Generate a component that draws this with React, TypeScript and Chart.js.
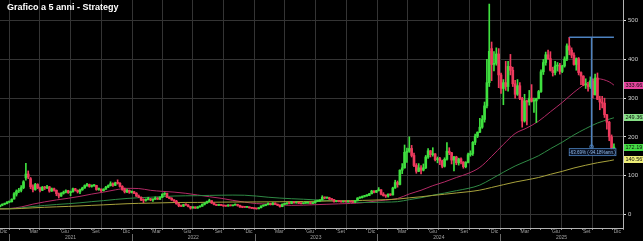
import React, { useEffect, useRef } from 'react';
import { Chart, registerables } from 'chart.js';

Chart.register(...registerables);

// ---------- DATA (weekly candles, Strategy / MSTR, split-adjusted) ----------
const opens = [
  19.5, 23.5, 26, 27.5, 31.5, 32.5, 39.5, 52, 60, 62,
  69, 94, 104, 92, 71, 64, 77, 68, 62, 70,
  68, 71, 60, 66, 62, 53, 47, 54, 57, 61,
  56, 58, 66, 62, 58, 63, 68, 74, 77, 72,
  74, 74.5, 64, 65, 61, 65, 70, 74, 79, 75,
  81, 80, 72, 64, 58, 62, 57, 58, 54.5, 47,
  44, 37, 36, 38, 40, 37, 39, 42, 39, 44,
  52, 54, 44, 41, 37, 34, 27, 22, 21, 25,
  24, 20, 16, 19, 16, 19, 21, 26, 29, 33,
  35, 29, 25, 23, 25, 23, 21.5, 21.2, 23.5, 22,
  23.8, 25, 23, 19, 18.5, 18, 18.5, 16.8, 15.5, 14.8,
  14.2, 17, 21.5, 23, 25, 28, 25, 29, 26, 23.5,
  20, 26, 27, 29.4, 28, 33, 29.5, 30, 28.5, 27.5,
  29, 29.2, 29.5, 28, 29.5, 34, 34.2, 37, 44, 42,
  43, 40, 38, 33, 33.5, 33, 32, 33, 32, 32.8,
  32, 31, 35, 42, 43, 46, 48, 48.5, 53, 60,
  57, 61, 63.2, 52, 48, 47, 52, 50, 68, 82,
  77, 114, 120, 160, 163, 170, 152, 126, 111, 120,
  114, 120, 148, 164, 154, 156, 141, 144, 138, 124,
  142, 163, 159, 140, 148, 133, 143, 135, 123, 134,
  154, 157, 186, 202, 212, 225, 245, 280, 340, 428,
  387, 390, 414, 360, 325, 340, 330, 382, 372, 337,
  310, 332, 299, 241, 293, 290, 300, 292, 293, 299,
  317, 368, 392, 412, 402, 372, 366, 383, 385, 369,
  383, 401, 435, 424, 411, 387, 402, 366, 357, 334,
  335, 330, 345, 309, 352, 297, 290, 287, 257, 238,
  200, 171,
];
const highs = [
  24, 27, 29, 33, 34, 40, 56, 63, 67, 74,
  87, 131.5, 112, 95, 76, 80, 79, 70, 72, 72,
  75, 72, 68, 68, 63, 55, 56, 60, 63, 62,
  60, 68, 67, 63, 65, 70, 76, 80, 78, 76,
  77, 75, 68, 66, 66, 72, 76, 84, 81, 83,
  89, 82, 74, 68, 65, 63, 60, 59, 56, 50,
  45, 40, 40, 44, 41, 40, 45, 43, 45, 53,
  56, 55, 45, 43, 38, 36, 28, 24, 26, 27,
  25, 20.5, 20, 19.5, 20, 22, 27, 30, 34, 39,
  35.5, 30, 26, 26, 25.5, 23.5, 22.5, 25, 24, 24,
  26.5, 26, 23.5, 19.5, 19.5, 19.5, 19, 17.5, 16, 15,
  17.5, 22, 24, 26, 29.5, 28.5, 30, 29.5, 26.5, 24,
  27, 28, 30, 30, 33.5, 33.5, 31, 31, 29, 29.5,
  30, 30.5, 30, 30, 35, 35.5, 38, 48, 45, 44.5,
  44, 40.5, 38.5, 35, 35, 33.5, 33.5, 34, 34, 34,
  33, 36, 43, 45, 47.5, 49, 50, 54, 62, 61,
  62, 69, 64, 56, 50, 53, 53, 70, 88, 86,
  115, 131, 179, 171, 200, 178, 158, 131, 131, 126,
  130, 152, 170, 165, 172, 157, 148, 147, 140, 146,
  185, 172, 160, 150, 150, 145, 146, 136, 136, 158,
  164, 188, 207, 213, 248, 255, 290, 400, 543, 445,
  420, 430, 428, 365, 348, 395, 395, 413, 380, 346,
  348, 340, 302, 310, 295, 320, 335, 300, 300, 320,
  373, 400, 419, 424, 420, 380, 395, 392, 390, 385,
  407, 440, 457, 430, 417, 404, 405, 368, 358, 350,
  340, 355, 350, 362, 365, 305, 305, 300, 258, 240,
  205, 182,
];
const lows = [
  19, 22, 24.5, 27, 30, 31.5, 39, 47, 56, 58,
  66, 88, 92, 66, 58, 62, 66, 58, 61, 64,
  66, 57, 59, 60, 48, 42, 46, 52, 55, 54,
  48, 57, 60, 55, 53, 62, 67, 72, 70, 70,
  72, 62, 62, 58, 60, 64, 69, 73, 72, 74,
  78, 70, 62, 55, 56, 54, 55, 53, 46, 43,
  35, 30, 34, 37, 35, 33, 38, 38, 38, 43,
  49, 43, 40, 36, 33, 26, 19.5, 19.5, 20, 23,
  19, 13.3, 15.5, 15, 15.5, 18.5, 20.5, 24, 28, 32,
  28, 24, 22.5, 22.5, 22, 20.5, 20.5, 21, 21.5, 21.5,
  23.5, 21, 17.5, 17, 17.8, 17.5, 16, 15, 14, 13.2,
  14, 16.5, 20.5, 22, 24.5, 24, 24.5, 25, 22.5, 18.5,
  19.5, 24.5, 26, 27, 27.5, 28.5, 28.5, 27.5, 26.5, 27,
  28, 28, 27, 27.5, 29, 32.5, 33.5, 36.5, 40, 41,
  38, 37, 31, 32, 32, 31, 31.5, 31.5, 31.5, 31.5,
  30.5, 30.5, 34.5, 41, 42, 44.5, 46, 48, 52.5, 55,
  56, 60, 50, 47, 43.5, 44.5, 48.5, 49.5, 67, 70,
  76, 105, 119, 134, 160, 148, 123, 106, 110, 104,
  112, 118, 144, 148, 150, 138, 133, 128, 120, 122,
  140, 154, 130, 112, 128, 127, 130, 119, 120, 133,
  150, 152, 180, 198, 211, 222, 238, 275, 330, 345,
  370, 385, 327, 312, 283, 320, 318, 360, 330, 300,
  307, 296, 225, 238, 231, 282, 290, 263, 237, 298,
  315, 361, 385, 400, 370, 357, 360, 370, 362, 366,
  380, 397, 412, 404, 385, 372, 360, 335, 332, 325,
  318, 325, 300, 308, 296, 270, 275, 250, 220, 190,
  166, 167,
];
const closes = [
  23.5, 26, 27.5, 31.5, 32.5, 38.9, 53, 60, 62, 69,
  84, 104, 96, 71, 64, 77, 68, 62, 70, 68,
  71, 60, 66, 62, 53, 47, 54, 57, 61, 56,
  58, 66, 62, 58, 63, 68, 74, 77, 72, 74,
  74.5, 64, 65, 61, 65, 70, 74, 79, 75, 81,
  80, 72, 64, 58, 62, 57, 58, 54.4, 47, 44,
  37, 36, 38, 40, 37, 39, 42, 39, 44, 52,
  54, 44, 41, 37, 34, 27, 22, 21, 25, 24,
  20, 16, 19, 16, 19, 21, 26, 29, 33, 35,
  29, 25, 23, 25, 23, 21.5, 21.2, 23.5, 22, 23.8,
  25, 23, 19, 18.5, 18, 18.5, 16.8, 15.5, 14.8, 14.2,
  17, 21.5, 23, 25, 28, 25, 29, 26, 23.5, 20,
  26, 27, 29.4, 28, 33, 29.5, 30, 28.5, 27.5, 29,
  29.2, 29.5, 28, 29.5, 34, 34.2, 37, 44, 42, 43,
  40, 38, 33, 33.5, 33, 32, 33, 32, 32.8, 32,
  31, 35, 42, 43, 46, 48, 48.5, 53, 60, 57,
  61, 63.2, 52, 48, 47, 52, 50, 68, 82, 77,
  114, 120, 160, 163, 170, 152, 126, 111, 120, 114,
  120, 148, 164, 154, 156, 141, 144, 138, 124, 142,
  163, 159, 140, 148, 133, 143, 135, 123, 134, 154,
  157, 186, 202, 212, 225, 245, 280, 340, 421, 387,
  390, 414, 360, 325, 340, 330, 382, 372, 337, 310,
  332, 299, 241, 293, 290, 300, 292, 293, 299, 317,
  368, 392, 412, 402, 372, 366, 383, 385, 369, 383,
  401, 435, 424, 411, 387, 402, 366, 357, 334, 335,
  330, 345, 309, 352, 297, 290, 287, 257, 238, 200,
  171, 172.19,
];

const maWeeks = [
  0, 4, 9, 14, 19, 24, 29, 34, 39, 44, 49, 54, 59, 64, 69, 74, 79, 84, 89, 94,
  99, 104, 109, 114, 119, 124, 129, 134, 139, 144, 149, 154, 159, 164, 169, 174,
  179, 184, 189, 194, 199, 204, 209, 214, 219, 224, 229, 234, 239, 244, 249, 254,
  259, 261,
];
const ma50 = [
  14.0, 14.9, 19.0, 26.3, 32.1, 37.1, 41.4, 46.3, 52.2, 57.3, 63.1, 67.0, 66.5,
  61.9, 59.3, 57.3, 54.2, 49.8, 45.4, 41.3, 36.0, 31.4, 27.7, 26.3, 24.4, 23.1,
  23.6, 24.8, 25.9, 27.0, 28.0, 29.8, 33.6, 36.7, 40.8, 52.5, 62.1, 73.9, 83.7,
  95.0, 105.5, 121.2, 149.4, 180.5, 208.6, 223.1, 240.7, 264.8, 288.7, 315.0,
  337.1, 350.1, 342.1, 333.66,
];
const ma100 = [
  14.2, 14.5, 16.6, 20.1, 22.9, 25.3, 27.3, 29.7, 32.7, 35.3, 38.3, 40.9, 42.8,
  44.1, 45.7, 47.2, 47.8, 48.1, 48.8, 49.3, 49.6, 49.2, 47.1, 44.1, 41.9, 40.2,
  38.9, 37.3, 35.7, 34.2, 32.0, 30.6, 30.7, 31.5, 32.6, 37.8, 42.8, 49.4, 54.8,
  61.0, 66.8, 75.5, 91.5, 108.6, 124.7, 137.8, 151.4, 169.3, 186.2, 205.0,
  221.3, 235.7, 245.7, 249.36,
];
const ma200 = [
  13.8, 13.9, 15.0, 16.7, 18.1, 19.3, 20.4, 21.6, 23.1, 24.4, 25.9, 27.3, 28.3,
  28.9, 29.6, 30.4, 30.6, 30.7, 31.1, 31.4, 31.7, 31.8, 31.9, 32.1, 32.4, 32.8,
  33.1, 33.5, 34.2, 34.7, 35.2, 35.8, 36.7, 37.8, 39.2, 42.5, 45.3, 48.7, 51.8,
  55.1, 58.2, 62.4, 69.3, 76.4, 83.3, 89.0, 95.1, 103.3, 110.9, 119.6, 126.7,
  133.1, 138.2, 140.57,
];

const yTicks = [0, 100, 200, 300, 400, 500];
const monthLabelNames = ['Dic', 'Mar', 'Giu', 'Set'];
const monthLabelIndex = [11, 2, 5, 8];
const yearLabels = ['2021', '2022', '2023', '2024', '2025'];
const titleText = 'Grafico a 5 anni - Strategy';
const measureText = '-63.69% (-94.18%ann.)';
const measureFromWeek = 242;
const tagValues = [333.6618, 249.363, 172.19, 140.5672];
const tagTexts = ['333.6618', '249.3630', '172.19', '140.5672'];

// ---------- STYLE ----------
const GREEN = '#3fe03f';
const RED = '#ee3a5e';
const GRID = '#343434';
const FONT = '"Liberation Sans", Arial, sans-serif';
const tagColors = ['#e8449e', '#86e086', '#44dd44', '#eeee78'];

const DAY_MS = 86400000;
const ORIGIN = Date.UTC(2021, 0, 1);
const dayOf = (y: number, m: number, d: number) => (Date.UTC(y, m, d) - ORIGIN) / DAY_MS;
const FIRST_WEEK_DAY = dayOf(2020, 11, 4);
const X_MIN = FIRST_WEEK_DAY;
const X_MAX = dayOf(2026, 0, 1);
const weekDay = (k: number) => FIRST_WEEK_DAY + 7 * k;

const monthStarts: number[] = [];
const quarterStarts = new Set<number>();
for (let y = 2020; y <= 2026; y++) {
  for (let m = 0; m < 12; m++) {
    const d = dayOf(y, m, 1);
    if (d >= X_MIN && d <= X_MAX) {
      monthStarts.push(d);
      if (m % 3 === 0) quarterStarts.add(d);
    }
  }
}
const labelTicks: { value: number; label: string | string[] }[] = [];
for (let y = 2020; y <= 2025; y++) {
  monthLabelIndex.forEach((m, i) => {
    const d = dayOf(y, m, 15);
    if (d >= X_MIN && d <= X_MAX) labelTicks.push({ value: d, label: monthLabelNames[i] });
  });
}
yearLabels.forEach((yl) => {
  labelTicks.push({ value: dayOf(Number(yl), 6, 2), label: ['', yl] });
});
labelTicks.sort((a, b) => a.value - b.value);
const yearStarts = [2021, 2022, 2023, 2024, 2025].map((y) => dayOf(y, 0, 1));

const overlayPlugin = {
  id: 'overlay',
  afterDatasetsDraw(chart: any) {
    const ctx = chart.ctx;
    const xs = chart.scales.x;
    const ys = chart.scales.y;
    const last = closes.length - 1;
    const xa = xs.getPixelForValue(weekDay(measureFromWeek));
    const xb = xs.getPixelForValue(weekDay(last));
    const ya = ys.getPixelForValue(highs[measureFromWeek]);
    const yb = ys.getPixelForValue(closes[last]);
    const xm = (xa + xb) / 2;
    ctx.save();
    ctx.strokeStyle = '#4d82c0';
    ctx.lineWidth = 1.5;
    ctx.beginPath();
    ctx.moveTo(xa, ya);
    ctx.lineTo(xb, ya);
    ctx.moveTo(xm, ya);
    ctx.lineTo(xm, yb);
    ctx.stroke();
    ctx.lineWidth = 1;
    ctx.beginPath();
    ctx.arc(xm, yb - 1, 1.8, 0, Math.PI * 2);
    ctx.stroke();
    ctx.fillStyle = 'rgba(10,20,40,0.85)';
    ctx.fillRect(xa, yb + 1, xb - xa + 2, 7);
    ctx.strokeStyle = '#4d82c0';
    ctx.lineWidth = 0.8;
    ctx.strokeRect(xa, yb + 1, xb - xa + 2, 7);
    ctx.fillStyle = '#8fb8e8';
    ctx.font = `4.5px ${FONT}`;
    ctx.textAlign = 'center';
    ctx.textBaseline = 'middle';
    ctx.fillText(measureText, xm + 1, yb + 4.7);
    ctx.restore();
  },
  afterDraw(chart: any) {
    const ctx = chart.ctx;
    const xs = chart.scales.x;
    const ys = chart.scales.y;
    const area = chart.chartArea;
    ctx.save();
    // year separators in the axis strip
    ctx.strokeStyle = '#6a6a6a';
    ctx.lineWidth = 1;
    yearStarts.forEach((d) => {
      const px = Math.round(xs.getPixelForValue(d)) + 0.5;
      ctx.beginPath();
      ctx.moveTo(px, area.bottom + 6);
      ctx.lineTo(px, chart.height);
      ctx.stroke();
    });
    // value tags on right
    tagValues.forEach((v, i) => {
      const y = ys.getPixelForValue(v);
      ctx.fillStyle = tagColors[i];
      ctx.fillRect(area.right + 1, Math.round(y - 3.5), chart.width - area.right - 1, 7);
      ctx.fillStyle = '#101010';
      ctx.font = `5.5px ${FONT}`;
      ctx.textAlign = 'left';
      ctx.textBaseline = 'middle';
      ctx.fillText(tagTexts[i], area.right + 2.5, Math.round(y - 3.5) + 3.8);
    });
    // title
    ctx.fillStyle = '#ffffff';
    ctx.font = `bold 9px ${FONT}`;
    ctx.textAlign = 'left';
    ctx.textBaseline = 'middle';
    ctx.fillText(titleText, 7, 7.5);
    ctx.restore();
  },
};

export default function App() {
  const canvasRef = useRef<HTMLCanvasElement | null>(null);

  useEffect(() => {
    document.body.style.margin = '0';
    document.body.style.background = '#000';
    const canvas = canvasRef.current;
    if (!canvas) return;
    const colors = closes.map((c, i) => (c >= opens[i] ? GREEN : RED));
    const maDataset = (vals: number[], color: string) => ({
      type: 'line' as const,
      data: maWeeks.map((k, i) => ({ x: weekDay(k), y: vals[i] })),
      borderColor: color,
      borderWidth: 1,
      pointRadius: 0,
      cubicInterpolationMode: 'monotone' as const,
      order: 3,
      xAxisID: 'x',
      yAxisID: 'y',
    });

    const chart = new Chart(canvas, {
      type: 'bar',
      data: {
        datasets: [
          maDataset(ma200, '#a8a23c'),
          maDataset(ma100, '#2f8a45'),
          maDataset(ma50, '#b32a66'),
          {
            type: 'bar',
            data: closes.map((_, i) => ({ x: weekDay(i), y: [lows[i], highs[i]] })),
            backgroundColor: colors,
            barThickness: 1,
            grouped: false,
            order: 2,
            xAxisID: 'x',
            yAxisID: 'y',
          } as any,
          {
            type: 'bar',
            data: closes.map((c, i) => ({ x: weekDay(i), y: [opens[i], c] })),
            backgroundColor: colors,
            barThickness: 2,
            minBarLength: 1,
            grouped: false,
            order: 1,
            xAxisID: 'x',
            yAxisID: 'y',
          } as any,
        ],
      },
      options: {
        responsive: false,
        animation: false,
        devicePixelRatio: 1,
        layout: { padding: 0 },
        plugins: {
          legend: { display: false },
          tooltip: { enabled: false },
          title: { display: false },
        },
        scales: {
          x: {
            type: 'linear',
            position: 'bottom',
            min: X_MIN,
            max: X_MAX,
            offset: false,
            afterBuildTicks: (s: any) => {
              s.ticks = monthStarts.map((v) => ({ value: v }));
            },
            ticks: { display: false },
            grid: {
              offset: false,
              color: (c: any) => (c.tick && quarterStarts.has(c.tick.value) ? GRID : 'rgba(0,0,0,0)'),
              tickColor: '#8a8a8a',
              tickLength: 2,
              drawTicks: true,
              lineWidth: 1,
            },
            border: { display: true, color: '#b4b4b4', width: 1 },
            afterFit: (s: any) => {
              s.height = 0;
              s.paddingLeft = 0;
              s.paddingRight = 0;
            },
          } as any,
          xl: {
            type: 'linear',
            position: 'bottom',
            weight: 1,
            min: X_MIN,
            max: X_MAX,
            offset: false,
            afterBuildTicks: (s: any) => {
              s.ticks = labelTicks.map((t) => ({ value: t.value }));
            },
            ticks: {
              autoSkip: false,
              maxRotation: 0,
              minRotation: 0,
              padding: 1,
              color: '#a0a0a0',
              font: { size: 5, family: FONT },
              callback: (_v: any, i: number) => labelTicks[i].label,
            },
            grid: { display: false, drawTicks: false, offset: false },
            border: { display: false },
            afterFit: (s: any) => {
              s.height = 13;
              s.paddingLeft = 0;
              s.paddingRight = 0;
            },
          } as any,
          y: {
            type: 'linear',
            position: 'right',
            min: -35.4,
            max: 553.5,
            afterBuildTicks: (s: any) => {
              s.ticks = yTicks.map((v) => ({ value: v }));
            },
            ticks: {
              color: '#cfcfcf',
              font: { size: 6, family: FONT },
              padding: 2,
              callback: (v: any) => String(v),
            },
            grid: { color: GRID, tickColor: '#dddddd', tickLength: 3, lineWidth: 1 },
            border: { display: true, color: '#b4b4b4', width: 1 },
            afterFit: (s: any) => {
              s.width = 20;
              s.paddingTop = 0;
              s.paddingBottom = 0;
            },
          } as any,
        },
      },
      plugins: [overlayPlugin],
    });
    return () => chart.destroy();
  }, []);

  return (
    <div style={{ width: 643, height: 241, background: '#000' }}>
      <canvas ref={canvasRef} width={643} height={241} style={{ display: 'block', width: 643, height: 241 }} />
    </div>
  );
}
